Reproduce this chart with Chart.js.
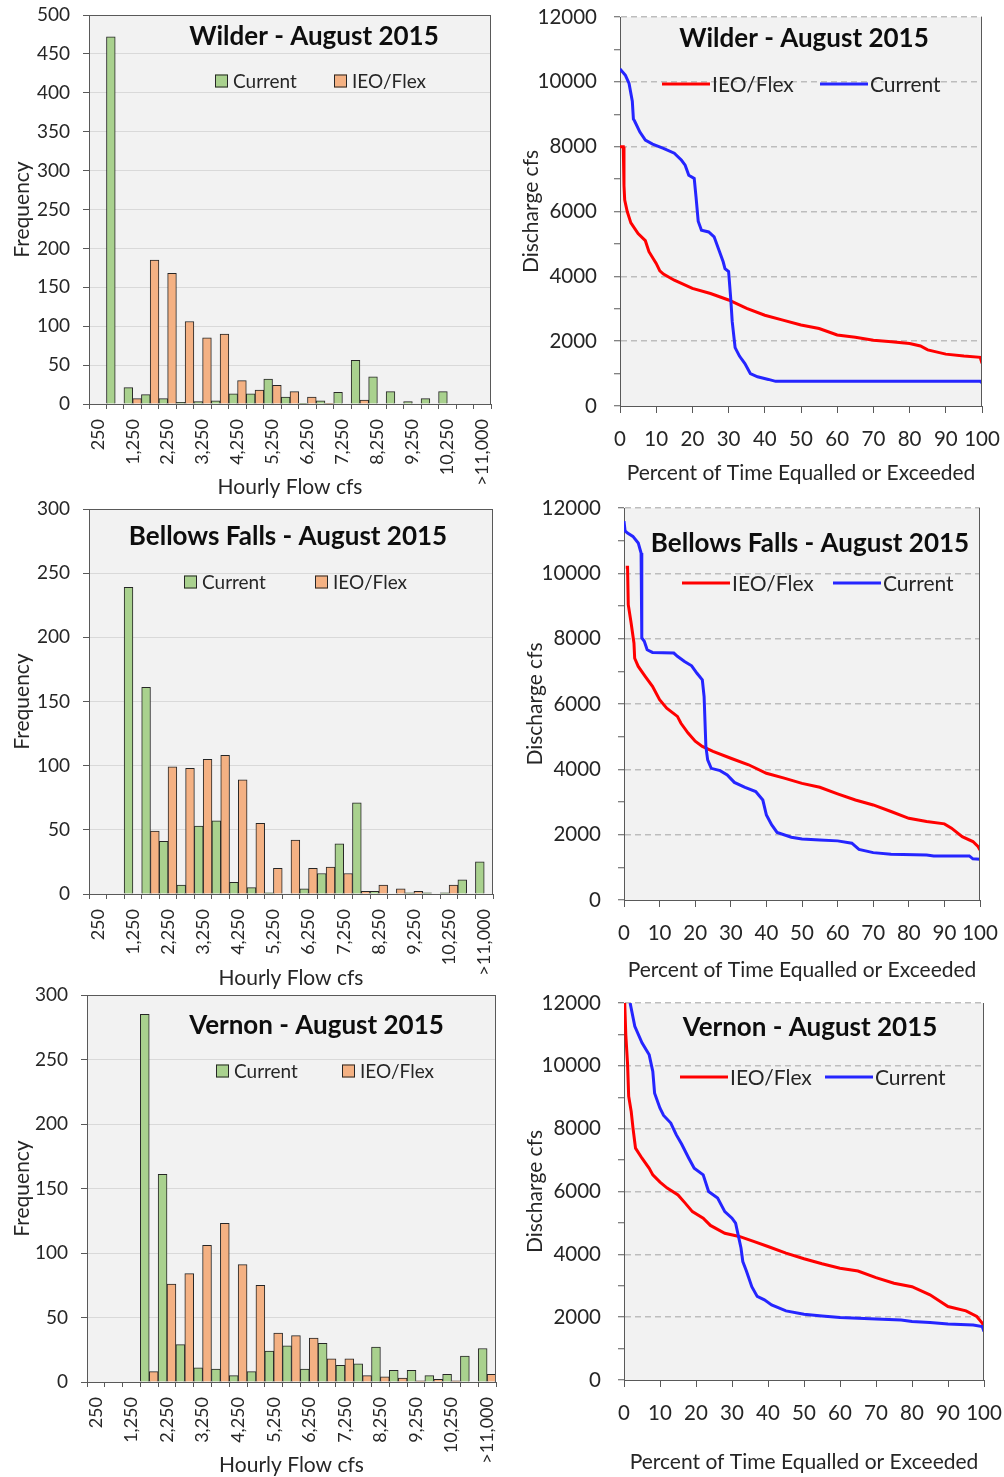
<!DOCTYPE html>
<html>
<head>
<meta charset="utf-8">
<title>Connecticut River flows - August 2015</title>
<script src="https://cdn.jsdelivr.net/npm/chart.js@4.4.1/dist/chart.umd.min.js"></script>
<style>
  body { margin: 0; background: #fff; }
  #page { position: relative; width: 1004px; height: 1477px; overflow: hidden; }
  .panel { position: absolute; }
  .panel canvas { display: block; }
</style>
</head>
<body>
<div id="page"></div>
<script>
// histogram bins (hourly flow, cfs)
const flowBins = ['250', '750', '1,250', '1,750', '2,250', '2,750', '3,250', '3,750', '4,250', '4,750',
  '5,250', '5,750', '6,250', '6,750', '7,250', '7,750', '8,250', '8,750', '9,250', '9,750',
  '10,250', '10,750', '>11,000'];

const wilderCurrent  = [0, 472, 21, 12, 7, 2, 3, 4, 13, 13, 32, 9, 1, 4, 15, 56, 35, 16, 3, 7, 16, 0, 0];
const wilderFlex     = [0, 0, 7, 185, 168, 106, 85, 90, 30, 18, 24, 16, 9, 1, 0, 5, 0, 0, 0, 0, 0, 0, 0];
const bellowsCurrent = [0, 0, 239, 161, 41, 7, 53, 57, 9, 5, 1, 0, 4, 16, 39, 71, 2, 0, 1, 1, 1, 11, 25];
const bellowsFlex    = [0, 0, 0, 49, 99, 98, 105, 108, 89, 55, 20, 42, 20, 21, 16, 2, 7, 4, 2, 0, 7, 0, 0];
const vernonCurrent  = [0, 0, 0, 285, 161, 29, 11, 10, 5, 8, 24, 28, 10, 30, 13, 14, 27, 9, 9, 5, 6, 20, 26];
const vernonFlex     = [0, 0, 0, 8, 76, 84, 106, 123, 91, 75, 38, 36, 34, 18, 18, 5, 4, 3, 1, 2, 1, 0, 6];

// flow duration curves: percent of time equalled or exceeded vs discharge cfs
const wilderFlexPct = [0, 0.9, 1.1, 1.3, 2, 3, 5, 7, 8, 10, 11, 12, 15, 20, 25, 30, 35, 40, 45, 50, 55, 60, 65, 70, 75, 80, 83, 85, 90, 95, 99.5, 100];
const wilderFlexCfs = [8000, 8000, 6800, 6350, 6000, 5650, 5320, 5100, 4760, 4400, 4170, 4070, 3880, 3630, 3470, 3270, 3010, 2800, 2650, 2500, 2390, 2190, 2120, 2030, 1980, 1930, 1850, 1730, 1600, 1540, 1500, 1320];
const wilderCurPct = [0, 1.5, 2.5, 3.4, 3.7, 4, 5.5, 7, 9, 12, 15, 17, 18, 19, 20.5, 21, 21.6, 22.5, 24.5, 26, 27.5, 28.5, 29, 30, 30.6, 31, 31.8, 33, 34.5, 36, 38, 41, 43, 99.5, 100];
const wilderCurCfs = [10400, 10200, 9950, 9400, 8850, 8800, 8450, 8200, 8080, 7950, 7800, 7580, 7430, 7120, 7020, 6450, 5700, 5420, 5370, 5220, 4760, 4450, 4240, 4150, 3300, 2600, 1800, 1540, 1310, 1000, 900, 820, 760, 760, 720];

const bellowsFlexPct = [0.5, 1, 1.2, 2, 2.8, 3, 4, 6, 8, 10, 12, 15, 16, 18, 20, 22, 25, 30, 35, 40, 45, 50, 55, 60, 65, 70, 75, 80, 85, 90, 92, 95, 98, 99.5, 100];
const bellowsFlexCfs = [10190, 10190, 9040, 8480, 7860, 7400, 7150, 6840, 6540, 6130, 5870, 5620, 5410, 5110, 4860, 4700, 4550, 4340, 4140, 3880, 3730, 3570, 3450, 3250, 3060, 2910, 2710, 2500, 2400, 2330, 2200, 1940, 1790, 1630, 1530];
const bellowsCurPct = [0, 0.3, 1, 2.5, 4, 4.8, 5, 5.7, 6.5, 8, 14, 15, 17, 19, 20.5, 22, 22.5, 23, 23.5, 24.5, 27, 29, 31, 34, 37, 39, 40, 41.5, 43, 47, 50, 55, 60, 64, 66, 70, 75, 85, 87, 97, 98, 100];
const bellowsCurCfs = [11600, 11300, 11230, 11130, 10930, 10620, 8020, 7920, 7660, 7580, 7560, 7460, 7300, 7170, 6940, 6740, 6230, 4700, 4290, 4030, 3960, 3830, 3600, 3450, 3320, 3060, 2600, 2300, 2070, 1920, 1870, 1840, 1810, 1740, 1550, 1450, 1400, 1380, 1350, 1350, 1260, 1250];

const vernonFlexPct = [0.2, 0.5, 1, 1.3, 2, 2.5, 3.2, 5, 7, 8, 10, 12, 15, 17, 19, 22, 24, 28, 32, 36, 40, 45, 50, 55, 60, 65, 70, 75, 80, 85, 90, 95, 98, 99.5, 100];
const vernonFlexCfs = [12000, 10990, 10040, 9030, 8550, 8020, 7380, 7060, 6740, 6530, 6300, 6110, 5890, 5630, 5360, 5150, 4920, 4670, 4570, 4410, 4250, 4040, 3860, 3700, 3560, 3470, 3260, 3080, 2970, 2710, 2340, 2200, 2020, 1810, 1700];
const vernonCurPct = [1.7, 3, 5, 7, 8, 8.5, 10, 11, 13, 14.5, 16, 18, 19.5, 22, 23.5, 26, 28, 30, 31, 32.5, 33, 34, 35.5, 37, 39, 41, 45, 50, 55, 60, 70, 77, 80, 85, 90, 97, 99.5, 100];
const vernonCurCfs = [12000, 11260, 10730, 10350, 9820, 9130, 8650, 8420, 8180, 7810, 7510, 7060, 6740, 6530, 6000, 5790, 5360, 5150, 4990, 4200, 3770, 3470, 2970, 2660, 2550, 2390, 2200, 2090, 2040, 1990, 1940, 1910, 1860, 1830, 1780, 1750, 1700, 1540];

const FONT = 'Lato';
const TEXT = '#262626';
const AXIS = '#595959';
const AX_TITLE = 21;
const MT = 34, MR = 45;   // spare room inside each canvas above / right of the plot
Chart.defaults.font.family = FONT;
Chart.defaults.color = TEXT;

// one absolutely placed canvas per panel, so that the plot lands at `area` on the page
function makeCanvas(colLeft, area, xTitleY) {
  const [L, T, R, B] = area;
  const top = T - MT;
  const bottom = Math.round(xTitleY + AX_TITLE * 0.6);
  const div = document.createElement('div');
  div.className = 'panel';
  div.style.left = colLeft + 'px';
  div.style.top = top + 'px';
  const canvas = document.createElement('canvas');
  canvas.width = R + MR - colLeft;
  canvas.height = bottom - top;
  div.appendChild(canvas);
  document.getElementById('page').appendChild(div);
  return { canvas, yWidth: L - colLeft, xHeight: bottom - B };
}

// plot background, frame, title and legend drawn inside the plot area
const panelDecor = {
  id: 'panelDecor',
  beforeDraw(chart) {
    const {ctx, chartArea: a} = chart;
    ctx.save();
    ctx.fillStyle = '#f2f2f2';
    ctx.fillRect(a.left, a.top, a.right - a.left, a.bottom - a.top);
    ctx.restore();
  },
  afterDraw(chart, args, opts) {
    const {ctx, chartArea: a} = chart;
    ctx.save();
    ctx.strokeStyle = AXIS;
    ctx.lineWidth = 1;
    ctx.beginPath();
    if (opts.frameTop) {
      ctx.moveTo(a.left, a.top + 0.5);
      ctx.lineTo(a.right, a.top + 0.5);
    }
    ctx.moveTo(a.right - 0.5, a.top);
    ctx.lineTo(a.right - 0.5, a.bottom);
    ctx.stroke();

    ctx.fillStyle = '#0d0d0d';
    ctx.font = 'bold 26px ' + FONT;
    ctx.textAlign = 'center';
    ctx.textBaseline = 'middle';
    ctx.fillText(opts.title, (a.left + a.right) / 2 + opts.titleDx, a.top + opts.titleDy);

    ctx.font = opts.legendFont;
    ctx.textAlign = 'left';
    const y = a.top + opts.legendDy;
    chart.data.datasets.forEach((ds, i) => {
      let x = a.left + opts.legendX[i];
      if (opts.marker === 'line') {
        ctx.strokeStyle = ds.borderColor;
        ctx.lineWidth = 3;
        ctx.beginPath();
        ctx.moveTo(x, y);
        ctx.lineTo(x + 48, y);
        ctx.stroke();
        x += 50;
      } else {
        ctx.fillStyle = ds.backgroundColor;
        ctx.fillRect(x, y - 6.5, 13, 13);
        ctx.strokeStyle = '#262626';
        ctx.lineWidth = 1;
        ctx.strokeRect(x + 0.5, y - 6, 12, 12);
        x += 18;
      }
      ctx.fillStyle = TEXT;
      ctx.fillText(ds.label, x, y + 1);
    });
    ctx.restore();
  }
};

function histChart(current, flex, yMax, area, xTitleY, decor) {
  const {canvas, yWidth, xHeight} = makeCanvas(0, area, xTitleY);
  return new Chart(canvas, {
    type: 'bar',
    data: {
      labels: flowBins,
      datasets: [
        { label: 'Current', data: current, backgroundColor: '#a9d18e', borderColor: '#262626', borderWidth: 1 },
        { label: 'IEO/Flex', data: flex, backgroundColor: '#f4b183', borderColor: '#262626', borderWidth: 1 },
      ],
    },
    options: {
      responsive: false,
      animation: false,
      devicePixelRatio: 1,
      categoryPercentage: 1,
      barPercentage: 1,
      layout: { padding: { left: 0, top: MT, right: MR, bottom: 0 } },
      plugins: {
        legend: { display: false },
        tooltip: { enabled: false },
        panelDecor: Object.assign({ marker: 'box', frameTop: true, legendFont: '19px ' + FONT }, decor),
      },
      scales: {
        x: {
          type: 'category',
          offset: true,
          afterFit: (s) => { s.height = xHeight; },
          grid: { display: true, offset: true, drawOnChartArea: false, tickLength: 5, tickColor: AXIS },
          border: { color: AXIS },
          ticks: {
            autoSkip: false, minRotation: 90, maxRotation: 90, padding: 10,
            font: { size: 18 }, color: TEXT,
            callback: (v, i) => (i % 2 === 0 ? flowBins[i] : ''),
          },
          title: { display: true, text: 'Hourly Flow cfs', font: { size: AX_TITLE }, color: TEXT, padding: { top: 0, bottom: 0 } },
        },
        y: {
          min: 0, max: yMax,
          afterFit: (s) => { s.width = yWidth; },
          grid: { color: '#d9d9d9', tickLength: 6, tickColor: AXIS },
          border: { color: AXIS },
          ticks: { stepSize: 50, padding: 13, font: { size: 19 }, color: TEXT },
          title: { display: true, text: 'Frequency', font: { size: AX_TITLE }, color: TEXT, padding: { top: 22 - AX_TITLE * 0.6, bottom: 0 } },
        },
      },
    },
    plugins: [panelDecor],
  });
}

function durChart(flexPct, flexCfs, curPct, curCfs, area, xTitleY, yTitleX, decor) {
  const {canvas, yWidth, xHeight} = makeCanvas(500, area, xTitleY);
  const zip = (p, q) => p.map((x, i) => ({ x: x, y: q[i] }));
  return new Chart(canvas, {
    type: 'line',
    data: {
      datasets: [
        { label: 'IEO/Flex', data: zip(flexPct, flexCfs), borderColor: '#ff0000', borderWidth: 3, pointRadius: 0, order: 2 },
        { label: 'Current', data: zip(curPct, curCfs), borderColor: '#2525ff', borderWidth: 3, pointRadius: 0, order: 1 },
      ],
    },
    options: {
      responsive: false,
      animation: false,
      devicePixelRatio: 1,
      layout: { padding: { left: 0, top: MT, right: MR, bottom: 0 } },
      plugins: {
        legend: { display: false },
        tooltip: { enabled: false },
        panelDecor: Object.assign({ marker: 'line', frameTop: false, legendFont: '21px ' + FONT }, decor),
      },
      scales: {
        x: {
          type: 'linear', min: 0, max: 100,
          afterFit: (s) => { s.height = xHeight; },
          grid: { drawOnChartArea: false, tickLength: 7, tickColor: AXIS },
          border: { color: AXIS },
          ticks: { stepSize: 10, autoSkip: false, maxRotation: 0, padding: 14, font: { size: 20.5 }, color: TEXT },
          title: { display: true, text: 'Percent of Time Equalled or Exceeded', font: { size: AX_TITLE }, color: TEXT, padding: { top: 0, bottom: 0 } },
        },
        y: {
          min: 0, max: 12000,
          afterFit: (s) => { s.width = yWidth; },
          grid: {
            lineWidth: 1.5,
            color: (c) => (c.tick && c.tick.value > 0 && c.tick.value % 2000 === 0 ? '#bdbdbd' : 'rgba(0,0,0,0)'),
            tickLength: 6, tickColor: AXIS, tickWidth: 1,
          },
          border: { color: AXIS, dash: [6, 4] },
          ticks: {
            stepSize: 1000, autoSkip: false, padding: 17, font: { size: 20.5 }, color: TEXT,
            callback: (v) => (v % 2000 === 0 ? v : ''),
          },
          title: { display: true, text: 'Discharge cfs', font: { size: AX_TITLE }, color: TEXT, padding: { top: yTitleX - 500 - AX_TITLE * 0.6, bottom: 0 } },
        },
      },
    },
    plugins: [panelDecor],
  });
}

// area = [left, top, right, bottom] of each plot on the page
histChart(wilderCurrent, wilderFlex, 500, [89, 15, 491, 404], 487,
  { title: 'Wilder - August 2015', titleDx: 24, titleDy: 22, legendDy: 66, legendX: [126, 245] });
histChart(bellowsCurrent, bellowsFlex, 300, [89, 509, 493, 894], 978,
  { title: 'Bellows Falls - August 2015', titleDx: -3, titleDy: 28, legendDy: 73, legendX: [95, 226] });
histChart(vernonCurrent, vernonFlex, 300, [87, 995, 496, 1382], 1465,
  { title: 'Vernon - August 2015', titleDx: 25, titleDy: 31, legendDy: 76, legendX: [129, 255] });

durChart(wilderFlexPct, wilderFlexCfs, wilderCurPct, wilderCurCfs, [620, 17, 982, 406], 473, 531,
  { title: 'Wilder - August 2015', titleDx: 3, titleDy: 22, legendDy: 67, legendX: [42, 200] });
durChart(bellowsFlexPct, bellowsFlexCfs, bellowsCurPct, bellowsCurCfs, [624, 508, 980, 900], 970, 535,
  { title: 'Bellows Falls - August 2015', titleDx: 8, titleDy: 36, legendDy: 75, legendX: [58, 209] });
durChart(vernonFlexPct, vernonFlexCfs, vernonCurPct, vernonCurCfs, [624, 1003, 984, 1380], 1462, 535,
  { title: 'Vernon - August 2015', titleDx: 6, titleDy: 25, legendDy: 74, legendX: [56, 201] });
</script>
</body>
</html>
